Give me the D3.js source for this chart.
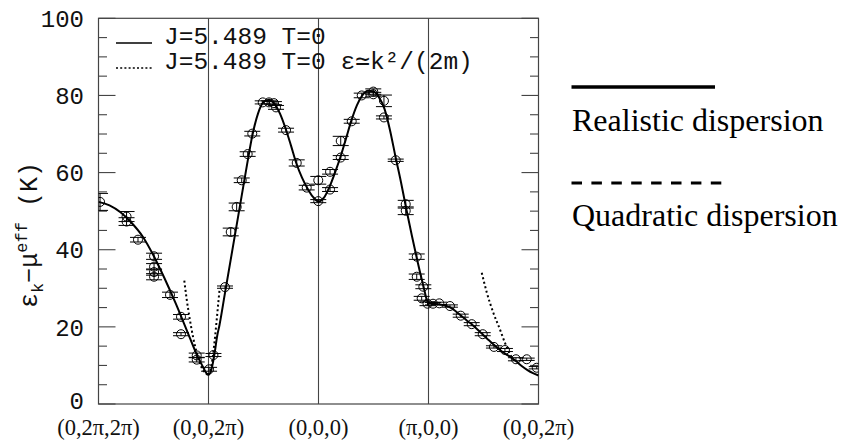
<!DOCTYPE html>
<html><head><meta charset="utf-8">
<script src="https://cdn.jsdelivr.net/npm/d3@7"></script>
<style>
html,body{margin:0;padding:0;background:#fff;}
svg{display:block;}
</style>
</head><body>
<svg id="chart" width="842" height="440"></svg>
<script>
// ---- data ----
const xTicks = [0, 1, 2, 3, 4];
const xTickLabels = ["(0,2π,2π)", "(0,0,2π)", "(0,0,0)", "(π,0,0)", "(0,0,2π)"];
const yTicks = [0, 20, 40, 60, 80, 100];
const yMinorTicks = [5,10,15,25,30,35,45,50,55,65,70,75,85,90,95];

// QMC points: path coordinate, energy (K), error (K)
const qmcK = [0.014,0.255,0.255,0.359,0.505,0.505,0.505,0.505,0.65,0.75,0.75,0.893,0.893,1.005,1.045,
  1.15,1.202,1.256,1.302,1.356,1.398,1.493,1.55,1.595,1.614,1.705,1.802,1.893,1.998,1.998,
  2.105,2.105,2.202,2.202,2.302,2.393,2.498,2.498,2.595,2.595,2.702,2.793,2.793,2.893,2.893,2.938,2.953,2.991,
  3.041,3.098,3.195,3.293,3.393,3.493,3.595,3.695,3.795,3.893,3.984];
const qmcE = [52.4,48.6,47.3,42.6,38.3,35.6,34.2,33.0,28.3,22.6,18.1,12.6,11.5,9.0,12.7,
  30.3,44.6,51.1,58.0,64.8,70.1,78.2,78.2,78.0,76.9,71.0,62.5,56.1,58.0,52.6,
  60.2,55.6,63.9,68.2,73.3,80.0,81.0,80.3,78.6,74.3,63.2,51.8,50.1,38.2,33.0,27.4,30.4,26.0,
  26.0,26.1,25.4,22.9,20.7,18.1,14.8,14.0,11.6,11.6,9.4];
const qmcErr = [2.2,1.3,1.0,0.6,0.8,0.8,0.8,0.8,0.7,0.6,0.4,0.6,0.6,0.5,0.4,
  0.3,1.0,1.0,0.6,0.6,0.6,0.4,0.4,0.4,0.5,0.5,0.8,0.6,1.0,0.4,
  0.6,0.5,0.5,1.2,0.5,0.6,0.7,0.5,1.5,0.4,0.3,1.0,1.0,0.7,0.7,0.5,0.5,0.5,
  0.3,0.3,0.3,0.4,0.4,0.4,0.3,0.4,0.4,0.3,0.3];

// Realistic dispersion (solid curve)
const realK = [0,0.1,0.2,0.3,0.4,0.5,0.6,0.7,0.8,0.9,0.95,0.98,1.0,1.02,1.05,1.08,1.1,1.15,1.2,1.25,1.3,1.35,1.4,1.45,1.5,1.55,1.6,1.65,1.7,1.75,1.8,1.85,1.9,1.95,2.0,
  2.05,2.1,2.15,2.2,2.25,2.3,2.35,2.4,2.45,2.5,2.55,2.6,2.65,2.7,2.75,2.8,2.85,2.9,2.95,3.0,
  3.05,3.1,3.15,3.2,3.25,3.3,3.35,3.4,3.45,3.5,3.55,3.6,3.65,3.7,3.75,3.8,3.85,3.9,3.95,4.0];
const realE = [52.4,51.5,49.7,47.0,43.5,38.5,32.6,26.2,19.3,12.4,9.6,8.0,7.6,8.3,12.2,17.8,20.5,28.8,37.1,45.4,53.7,62.0,69.8,75.3,78.3,78.9,77.8,75.3,71.5,67.0,62.3,58.7,55.9,53.7,52.5,
  53.5,56.3,60.0,64.1,68.8,73.6,77.5,80.1,81.2,81.0,79.5,76.5,71.0,64.1,57.5,50.3,43.5,37.0,31.0,26.2,
  26.0,25.8,25.5,25.0,24.0,22.8,21.6,20.5,19.2,17.8,16.5,15.2,14.0,13.0,12.1,11.0,9.8,8.8,8.0,7.4];

// Quadratic dispersion (dotted) near the (0,0,2π) minima
const quadLeftK = [0.78,0.80,0.83,0.86,0.89,0.92,0.95,0.98,1.0];
const quadLeftE = [32.0,27.5,22.0,17.3,13.6,10.7,8.8,7.8,7.6];
const quadMidK = [1.0,1.02,1.04,1.06,1.08,1.1];
const quadMidE = [7.6,8.8,12.5,17.5,23.5,29.5];
const quadRightK = [3.484,3.53,3.59,3.65,3.70,3.77,3.80];
const quadRightE = [34.0,28.9,23.6,19.3,15.5,11.6,11.0];

// ---- drawing ----
const svg = d3.select("#chart");
const L = 98.5, R = 538.5, T = 18.3, B = 404;
const x = d3.scaleLinear().domain([0, 4]).range([L, R]);
const y = d3.scaleLinear().domain([0, 100]).range([B, T]);
const ink = "#111";
const mono = "'Liberation Mono', 'DejaVu Sans Mono', monospace";
const serif = "'Liberation Serif', 'DejaVu Serif', serif";

svg.append("defs").append("clipPath").attr("id", "plotclip")
  .append("rect").attr("x", L).attr("y", T).attr("width", R - L).attr("height", B - T);

// frame
svg.append("rect").attr("x", L).attr("y", T).attr("width", R - L).attr("height", B - T)
  .attr("fill", "none").attr("stroke", "#444").attr("stroke-width", 1.2);

// vertical lines at symmetry points
svg.append("g").selectAll("line").data(xTicks.slice(1, -1)).join("line")
  .attr("x1", d => x(d)).attr("x2", d => x(d)).attr("y1", T).attr("y2", B)
  .attr("stroke", "#444").attr("stroke-width", 1.1);

// y ticks (inward, left and right)
const tg = svg.append("g").attr("stroke", "#444").attr("stroke-width", 1.1);
[[yTicks, 17], [yMinorTicks, 8.5]].forEach(([arr, len]) => {
  tg.selectAll(null).data(arr).join("line")
    .attr("x1", L).attr("x2", L + len).attr("y1", d => y(d)).attr("y2", d => y(d));
  tg.selectAll(null).data(arr).join("line")
    .attr("x1", R - len).attr("x2", R).attr("y1", d => y(d)).attr("y2", d => y(d));
});

// y tick labels
svg.append("g").selectAll("text").data(yTicks).join("text")
  .attr("x", 84).attr("y", d => y(d)).attr("dy", d => d === 0 ? "0.22em" : "0.36em")
  .attr("text-anchor", "end").attr("font-family", mono).attr("font-size", 24)
  .attr("fill", ink).text(d => d);

// x tick labels
svg.append("g").selectAll("text").data(xTicks).join("text")
  .attr("x", d => x(d)).attr("y", 435)
  .attr("text-anchor", "middle").attr("font-family", serif).attr("font-size", 22.5)
  .attr("fill", ink).text((d, i) => xTickLabels[i]);

// y axis title
const yt = svg.append("text").attr("transform", "translate(37,235) rotate(-90)")
  .attr("text-anchor", "middle").attr("font-family", mono).attr("font-size", 25).attr("fill", ink);
yt.append("tspan").text("ε");
yt.append("tspan").attr("font-size", 17).attr("dy", 6).text("k");
yt.append("tspan").attr("dy", -6).text("−μ");
yt.append("tspan").attr("font-size", 17).attr("dy", -10).text("eff");
yt.append("tspan").attr("dy", 10).text(" (K)");

const plot = svg.append("g").attr("clip-path", "url(#plotclip)");
const line = d3.line().x(d => x(d[0])).y(d => y(d[1])).curve(d3.curveMonotoneX);

// solid realistic curve
plot.append("path").datum(realK.map((k, i) => [k, realE[i]]))
  .attr("d", line).attr("fill", "none").attr("stroke", "#000").attr("stroke-width", 2);

// dotted quadratic curves
[[quadLeftK, quadLeftE], [quadMidK, quadMidE], [quadRightK, quadRightE]].forEach(([ks, es]) => {
  plot.append("path").datum(ks.map((k, i) => [k, es[i]]))
    .attr("d", line).attr("fill", "none").attr("stroke", "#000")
    .attr("stroke-width", 2).attr("stroke-dasharray", "2,2.6");
});

// QMC points with error bars
const pts = qmcK.map((k, i) => ({k, e: qmcE[i], s: qmcErr[i]}));
const pg = plot.append("g").attr("stroke", "#000").attr("fill", "none").attr("stroke-width", 1);
pts.forEach(p => {
  const cx = x(p.k), y1 = y(p.e - p.s), y2 = y(p.e + p.s);
  pg.append("line").attr("x1", cx).attr("x2", cx).attr("y1", y1).attr("y2", y2);
  pg.append("line").attr("x1", cx - 8).attr("x2", cx + 8).attr("y1", y1).attr("y2", y1);
  pg.append("line").attr("x1", cx - 8).attr("x2", cx + 8).attr("y1", y2).attr("y2", y2);
  pg.append("circle").attr("cx", cx).attr("cy", y(p.e)).attr("r", 4.5);
});

// inner legend
const lg = svg.append("g");
lg.append("line").attr("x1", 116).attr("x2", 152).attr("y1", 43).attr("y2", 43)
  .attr("stroke", "#000").attr("stroke-width", 1.6);
lg.append("line").attr("x1", 116).attr("x2", 152).attr("y1", 68).attr("y2", 68)
  .attr("stroke", "#000").attr("stroke-width", 1.6).attr("stroke-dasharray", "2,2.2");
lg.append("text").attr("x", 164).attr("y", 44).attr("font-family", mono).attr("font-size", 24.5)
  .attr("fill", ink).attr("xml:space", "preserve").text("J=5.489 T=0");
lg.append("text").attr("x", 164).attr("y", 69).attr("font-family", mono).attr("font-size", 24.5)
  .attr("fill", ink).attr("xml:space", "preserve").text("J=5.489 T=0 ε≃k²/(2m)");

// right-hand legend
const rg = svg.append("g");
rg.append("line").attr("x1", 571.5).attr("x2", 715).attr("y1", 87).attr("y2", 87)
  .attr("stroke", "#000").attr("stroke-width", 3.5);
rg.append("text").attr("x", 572).attr("y", 131).attr("font-family", serif)
  .attr("font-size", 32).attr("fill", "#000").text("Realistic dispersion");
rg.append("line").attr("x1", 571.5).attr("x2", 723).attr("y1", 183).attr("y2", 183)
  .attr("stroke", "#000").attr("stroke-width", 3).attr("stroke-dasharray", "10.5,9.4");
rg.append("text").attr("x", 572).attr("y", 226).attr("font-family", serif)
  .attr("font-size", 32).attr("fill", "#000").text("Quadratic dispersion");
</script>
</body></html>
